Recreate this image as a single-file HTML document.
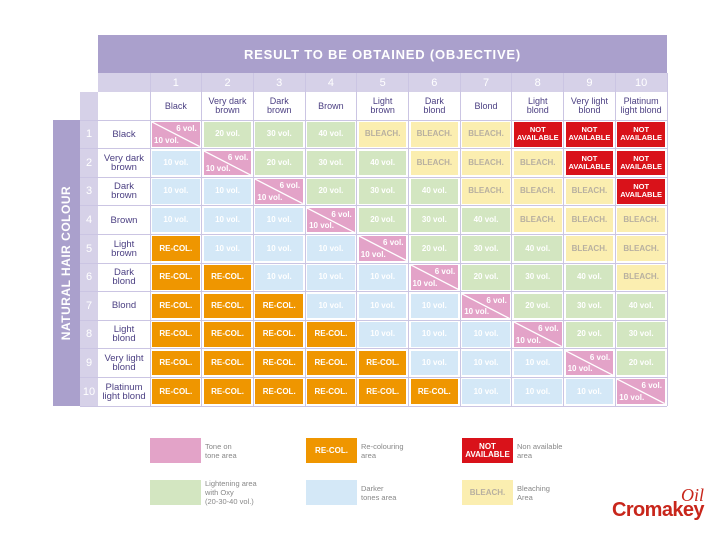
<!DOCTYPE html>
<html><head><meta charset="utf-8">
<style>
body{margin:0;width:720px;height:540px;background:#fff;position:relative;overflow:hidden;font-family:"Liberation Sans",sans-serif}
.a{position:absolute;box-sizing:border-box}
.c{display:flex;align-items:center;justify-content:center;text-align:center}
.cell{color:#fff;font-size:8px;font-weight:bold}
.lbl{color:#4b3f82;font-size:9.5px;line-height:9px}
.leg{font-size:7.5px;color:#888;line-height:9px}
</style></head><body>
<div class="a c" style="left:98px;top:35px;width:569px;height:38px;background:#aaa0cc;color:#fff;font-size:13px;font-weight:bold;letter-spacing:0.8px">RESULT TO BE OBTAINED (OBJECTIVE)</div>
<div class="a" style="left:98px;top:73px;width:569px;height:19px;background:#d6d1e8"></div>
<div class="a" style="left:80px;top:92px;width:18px;height:314px;background:#d6d1e8"></div>
<div class="a c" style="left:53px;top:120px;width:27px;height:286px;background:#aaa0cc"><div style="transform:rotate(-90deg);white-space:nowrap;color:#fff;font-size:12px;font-weight:bold;letter-spacing:0.5px">NATURAL HAIR COLOUR</div></div>
<div id="grid"></div>
<div id="legend"></div>
<div class="a" style="left:612px;top:485px;width:100px;height:38px">
<div class="a" style="right:8px;top:0;font-family:'Liberation Serif',serif;font-style:italic;font-size:18px;color:#c8261b">Oil</div>
<div class="a" style="left:0;top:14px;font-size:20px;font-weight:bold;color:#c8261b;letter-spacing:-0.6px">Cromakey</div></div>
<script>
const names=["Black","Very dark<br>brown","Dark<br>brown","Brown","Light<br>brown","Dark<br>blond","Blond","Light<br>blond","Very light<br>blond","Platinum<br>light blond"];
const matrix=[
["D","20","30","40","B","B","B","N","N","N"],
["10","D","20","30","40","B","B","B","N","N"],
["10","10","D","20","30","40","B","B","B","N"],
["10","10","10","D","20","30","40","B","B","B"],
["R","10","10","10","D","20","30","40","B","B"],
["R","R","10","10","10","D","20","30","40","B"],
["R","R","R","10","10","10","D","20","30","40"],
["R","R","R","R","10","10","10","D","20","30"],
["R","R","R","R","R","10","10","10","D","20"],
["R","R","R","R","R","R","10","10","10","D"]];
const X0=150,CW=51.7,Y0=120,RH=28.6;
const g=document.getElementById('grid');
function mk(parent,cls,st,html){const d=document.createElement('div');d.className=cls;d.style.cssText=st;d.innerHTML=html||'';parent.appendChild(d);return d;}
for(let c=0;c<=10;c++){const l=mk(g,'a','left:'+(X0+c*CW-0.5)+'px;top:73px;width:1px;height:333px;background:#cbc5e3');

}
for(let r=0;r<=10;r++){const l=mk(g,'a','left:80px;top:'+(Y0+r*RH-0.5)+'px;width:587px;height:1px;background:#cbc5e3');

}
const colMap={"10":["#d4e8f7","10 vol."],"20":["#d3e6c1","20 vol."],"30":["#d3e6c1","30 vol."],"40":["#d3e6c1","40 vol."],"B":["#fbeeb0","BLEACH."],"N":["#d9121a","NOT<br>AVAILABLE"],"R":["#ef9600","RE-COL."]};
for(let c=0;c<10;c++){
 const n=mk(g,'a c','left:'+(X0+c*CW)+'px;top:73px;width:'+CW+'px;height:19px;color:#fff;font-size:11px',String(c+1));
 
 
 const h=mk(g,'a c lbl','left:'+(X0+c*CW)+'px;top:92px;width:'+CW+'px;height:28px;font-size:9px',names[c]);
 
 
}
for(let r=0;r<10;r++){
 const y=Y0+r*RH;
 const rn=mk(g,'a c','left:80px;top:'+y+'px;width:18px;height:'+RH+'px;color:#fff;font-size:11px',String(r+1));
 
 
 const rl=mk(g,'a c lbl','left:98px;top:'+y+'px;width:52px;height:'+RH+'px',names[r]);
 
 
 for(let c=0;c<10;c++){
  const v=matrix[r][c];const x=X0+c*CW;
  let el;
  if(v==="D"){
   el=mk(g,'a cell','left:'+(x+2)+'px;top:'+(y+2)+'px;width:'+(CW-4)+'px;height:'+(RH-4)+'px;background:#e3a3c8;overflow:hidden',
   '<svg class="a" style="left:0;top:0" width="'+(CW-4)+'" height="'+(RH-4)+'"><line x1="0" y1="0" x2="'+(CW-4)+'" y2="'+(RH-4)+'" stroke="#fff" stroke-width="1.3"/></svg><span class="a" style="right:3px;top:2px">6 vol.</span><span class="a" style="left:2px;bottom:2px">10 vol.</span>');
   
  }else{
   const m=colMap[v];
   const col=(v==="B")?"#b8b0a0":"#fff";
   el=mk(g,'a c cell','left:'+(x+2)+'px;top:'+(y+2)+'px;width:'+(CW-4)+'px;height:'+(RH-4)+'px;background:'+m[0]+';color:'+col+';line-height:8px;font-size:'+(v==="N"?7.5:8)+'px',m[1]);
   
  }
  
 }
}
const legItems=[
 [150,438,"#e3a3c8","","Tone on<br>tone area","#fff"],
 [306,438,"#ef9600","RE-COL.","Re-colouring<br>area","#fff"],
 [462,438,"#d9121a","NOT<br>AVAILABLE","Non available<br>area","#fff"],
 [150,480,"#d3e6c1","","Lightening area<br>with Oxy<br>(20-30-40 vol.)","#fff"],
 [306,480,"#d4e8f7","","Darker<br>tones area","#fff"],
 [462,480,"#fbeeb0","BLEACH.","Bleaching<br>Area","#b8b0a0"]];
const lg=document.getElementById('legend');
legItems.forEach(it=>{
 const s=mk(lg,'a c cell','left:'+it[0]+'px;top:'+it[1]+'px;width:51px;height:25px;background:'+it[2]+';color:'+it[5]+';line-height:8px',it[3]);
 
 
 const t=mk(lg,'a leg','left:'+(it[0]+55)+'px;top:'+it[1]+'px;height:25px;display:flex;align-items:center',it[4]);
 
 
});
</script>
</body></html>
